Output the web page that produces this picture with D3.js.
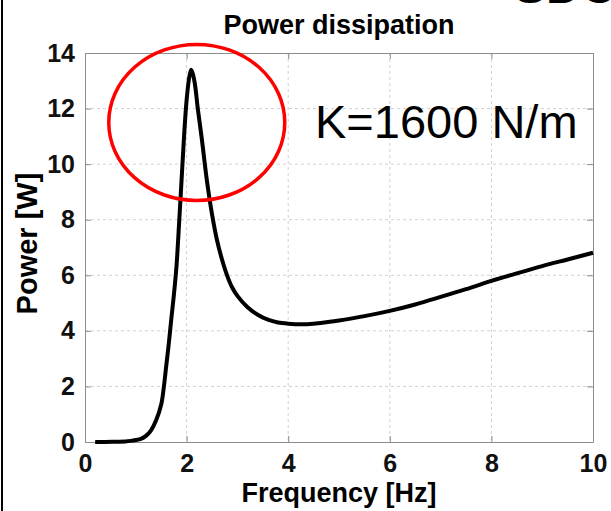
<!DOCTYPE html>
<html>
<head>
<meta charset="utf-8">
<script src="https://cdn.jsdelivr.net/npm/d3@7"></script>
<style>
  body { margin: 0; background: #fff; }
  text { font-family: "Liberation Sans", Arial, sans-serif; }
</style>
</head>
<body>
<script>
// frequency [Hz] and dissipated power [W]
var freq = [0.2, 0.4, 0.6, 0.8, 0.9, 1.0, 1.1, 1.2, 1.3, 1.4, 1.5, 1.55, 1.6, 1.65,
  1.7, 1.75, 1.8, 1.85, 1.9, 1.95, 2.0, 2.05, 2.09, 2.13, 2.17, 2.22, 2.3, 2.4, 2.5,
  2.6, 2.7, 2.8, 2.9, 3.0, 3.2, 3.4, 3.6, 3.8, 4.0, 4.25, 4.5, 4.75, 5.0, 5.5, 6.0, 6.5,
  7.0, 7.5, 8.0, 8.5, 9.0, 9.5, 10.0];
var power = [0, 0, 0.01, 0.02, 0.04, 0.07, 0.11, 0.22, 0.42, 0.78, 1.35, 1.95, 2.75, 3.55,
  4.45, 5.3, 6.3, 7.8, 9.4, 11.0, 12.3, 13.1, 13.4, 13.2, 12.8, 12.0, 10.9, 9.4, 8.2,
  7.25, 6.55, 5.98, 5.55, 5.26, 4.85, 4.58, 4.4, 4.3, 4.26, 4.24, 4.26, 4.31, 4.37, 4.53, 4.72, 4.95,
  5.22, 5.5, 5.8, 6.07, 6.33, 6.57, 6.81];
var xTicks = [0, 2, 4, 6, 8, 10];
var yTicks = [0, 2, 4, 6, 8, 10, 12, 14];

var w = 611, h = 511;
var padLeft = 85, padRight = 593, padTop = 53, padBottom = 442;

var svg = d3.select("body").append("svg")
  .attr("width", w)
  .attr("height", h);

var x = d3.scaleLinear().domain([0, 10]).range([padLeft, padRight]);
var y = d3.scaleLinear().domain([0, 14]).range([padBottom, padTop]);

// grid
svg.append("g").selectAll("line")
  .data(xTicks.slice(1, -1))
  .enter().append("line")
  .attr("x1", d => x(d)).attr("x2", d => x(d))
  .attr("y1", padTop).attr("y2", padBottom)
  .attr("stroke", "#d0d0d0").attr("stroke-dasharray", "3,3");
svg.append("g").selectAll("line")
  .data(yTicks.slice(1, -1))
  .enter().append("line")
  .attr("y1", d => y(d)).attr("y2", d => y(d))
  .attr("x1", padLeft).attr("x2", padRight)
  .attr("stroke", "#d0d0d0").attr("stroke-dasharray", "3,3");

// axes, ticks inside on all four sides
var ax = function(g) {
  g.select(".domain").attr("stroke", "#8c8c8c");
  g.selectAll(".tick line").attr("stroke", "#8c8c8c");
  g.selectAll("text")
    .attr("font-size", 25)
    .attr("font-weight", "bold")
    .attr("fill", "#111");
};
svg.append("g")
  .attr("transform", "translate(0," + padBottom + ")")
  .call(d3.axisBottom(x).tickValues(xTicks).tickSize(-6).tickPadding(12).tickSizeOuter(0))
  .call(ax);
svg.append("g")
  .attr("transform", "translate(0," + padTop + ")")
  .call(d3.axisTop(x).tickValues(xTicks).tickSize(-6).tickFormat("").tickSizeOuter(0))
  .call(ax);
svg.append("g")
  .attr("transform", "translate(" + padLeft + ",0)")
  .call(d3.axisLeft(y).tickValues(yTicks).tickSize(-6).tickPadding(10).tickSizeOuter(0))
  .call(ax);
svg.append("g")
  .attr("transform", "translate(" + padRight + ",0)")
  .call(d3.axisRight(y).tickValues(yTicks).tickSize(-6).tickFormat("").tickSizeOuter(0))
  .call(ax);

// the curve
var line = d3.line()
  .x(function(d, i) { return x(freq[i]); })
  .y(function(d) { return y(d); })
  .curve(d3.curveCatmullRom.alpha(0.5));
svg.append("path")
  .datum(power)
  .attr("d", line)
  .attr("fill", "none")
  .attr("stroke", "#000")
  .attr("stroke-width", 4)
  .attr("stroke-linejoin", "round");

// red ellipse round the resonance peak
svg.append("ellipse")
  .attr("cx", x(2.2)).attr("cy", y(11.5))
  .attr("rx", 88).attr("ry", 78)
  .attr("fill", "none")
  .attr("stroke", "#ff0000")
  .attr("stroke-width", 3.5);

// texts
svg.append("text")
  .attr("x", (padLeft + padRight) / 2).attr("y", 34)
  .attr("text-anchor", "middle")
  .attr("font-size", 27).attr("font-weight", "bold")
  .text("Power dissipation");
svg.append("text")
  .attr("x", (padLeft + padRight) / 2).attr("y", 502)
  .attr("text-anchor", "middle")
  .attr("font-size", 27).attr("font-weight", "bold")
  .text("Frequency [Hz]");
svg.append("text")
  .attr("transform", "translate(37," + ((padTop + padBottom) / 2 - 4) + ") rotate(-90)")
  .attr("text-anchor", "middle")
  .attr("font-size", 29).attr("font-weight", "bold")
  .text("Power [W]");
svg.append("text")
  .attr("x", 315).attr("y", 138)
  .attr("font-size", 47)
  .text("K=1600 N/m");

// bits of the slide around the figure
svg.append("text")
  .attr("x", 514).attr("y", 3)
  .attr("font-size", 48).attr("font-weight", "bold")
  .text("SDC");
svg.append("line")
  .attr("x1", 2).attr("x2", 2).attr("y1", 0).attr("y2", h)
  .attr("stroke", "#000").attr("stroke-width", 2);
</script>
</body>
</html>
